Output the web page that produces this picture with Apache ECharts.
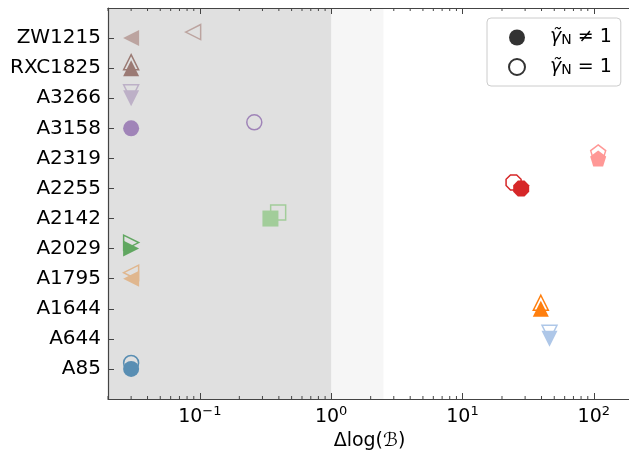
<!DOCTYPE html>
<html><head><meta charset="utf-8">
<script src="https://cdn.jsdelivr.net/npm/echarts@6/dist/echarts.min.js"></script>
<style>html,body{margin:0;padding:0;background:#fff}#c{width:629px;height:451px}</style>
</head><body><div id="c"></div>
<script>
// ---- data ----
const categories = ['A85','A644','A1644','A1795','A2029','A2142','A2255','A2319','A3158','A3266','RXC1825','ZW1215'];
const filledValues = [0.03, 46, 39.5, 0.03, 0.03, 0.345, 28, 108, 0.03, 0.03, 0.03, 0.03];
const openValues   = [0.03, 46, 39.5, 0.03, 0.03, 0.395, 24.5, 108, 0.26, 0.03, 0.03, 0.089];
const markerColors = ['#1f77b4','#aec7e8','#ff7f0e','#ffbb78','#2ca02c','#98df8a','#d62728','#ff9896','#9467bd','#c5b0d5','#8c564b','#c49c94'];
const markerKinds  = ['o','v','^','<','>','s','8','p','o','v','^','<'];
const xMinorTicks = [0.02,0.03,0.04,0.05,0.06,0.07,0.08,0.09,
                     0.2,0.3,0.4,0.5,0.6,0.7,0.8,0.9,
                     2,3,4,5,6,7,8,9,
                     20,30,40,50,60,70,80,90];
const shadeBounds = [[0.02, 1], [1, 2.5]];
const shadeColors = ['rgba(178,178,178,0.4)', 'rgba(178,178,178,0.12)'];
const legendNames = ['neq', 'eq'];
const legendLabels = {neq: '≠ 1', eq: '= 1'};
const xMin = 0.02, xMax = 192, yMin = -1, yMax = 12;
const openOffset = 0.2;

// ---- styles ----
const FONT = 'DejaVu Sans';
const AX = '#444';
const symbolMap = {
  'o': 'circle',
  '^': 'triangle',
  'v': 'path://M0,0 L2,0 L1,2 Z',
  '<': 'path://M0,1 L2,0 L2,2 Z',
  '>': 'path://M0,0 L2,1 L0,2 Z',
  's': 'rect',
  '8': 'path://M1.383,0.076 L1.924,0.617 L1.924,1.383 L1.383,1.924 L0.617,1.924 L0.076,1.383 L0.076,0.617 L0.617,0.076 Z',
  'p': 'path://M1,0 L1.951,0.691 L1.588,1.809 L0.412,1.809 L0.049,0.691 Z'
};

const series = [];
categories.forEach((c, i) => {
  series.push({
    type: 'scatter', name: c + ' open', z: 2,
    symbol: symbolMap[markerKinds[i]], symbolSize: 15,
    itemStyle: {color: 'rgba(0,0,0,0)', borderColor: markerColors[i], borderWidth: 1.5, opacity: 1},
    data: [[openValues[i], i + openOffset]]
  });
});
categories.forEach((c, i) => {
  series.push({
    type: 'scatter', name: c + ' filled', z: 3,
    symbol: symbolMap[markerKinds[i]], symbolSize: 16,
    itemStyle: {color: markerColors[i], opacity: 1},
    data: [[filledValues[i], i]]
  });
});
// shading overlay (drawn over markers like translucent axvspan)
series.push({
  type: 'custom', name: 'shade', z: 8, silent: true, clip: true,
  data: shadeBounds.map((b, k) => [b[0], b[1], k]),
  renderItem: (params, api) => {
    const p0 = api.coord([api.value(0), yMax]);
    const p1 = api.coord([api.value(1), yMin]);
    return {type: 'rect', shape: {x: p0[0], y: p0[1], width: p1[0] - p0[0], height: p1[1] - p0[1]},
            style: {fill: shadeColors[api.value(2)]}};
  }
});
// minor ticks (bottom & top), placed via the log scale
series.push({
  type: 'custom', name: 'minor', z: 12, silent: true, clip: false,
  data: xMinorTicks.map(v => [v, 0]),
  renderItem: (params, api) => {
    const pb = api.coord([api.value(0), yMin]);
    const pt = api.coord([api.value(0), yMax]);
    const st = {stroke: AX, lineWidth: 1};
    return {type: 'group', children: [
      {type: 'line', shape: {x1: pb[0], y1: pb[1], x2: pb[0], y2: pb[1] - 3}, style: st},
      {type: 'line', shape: {x1: pt[0], y1: pt[1], x2: pt[0], y2: pt[1] + 3}, style: st}
    ]};
  }
});
// legend entries
series.push({type: 'scatter', name: 'neq', data: [], symbol: 'circle', itemStyle: {color: '#000'}});
series.push({type: 'scatter', name: 'eq', data: [], symbol: 'circle',
  itemStyle: {color: 'rgba(0,0,0,0)', borderColor: '#000', borderWidth: 1.3}});

const xLabelFmt = v => {
  const l = Math.log10(v), e = Math.round(l);
  if (Math.abs(l - e) > 1e-6) return '';
  return '{b|10}{s|' + (e < 0 ? '\u2212' + (-e) : e) + '}';
};

const xAxisBase = {
  type: 'log', logBase: 10, min: xMin, max: xMax, z: 20,
  axisLine: {show: true, onZero: false, lineStyle: {color: AX, width: 1.2}},
  axisTick: {show: true, inside: true, length: 6, lineStyle: {color: AX, width: 1}},
  splitLine: {show: false}, minorTick: {show: false}
};

const option = {
  animation: false,
  backgroundColor: '#fff',
  grid: {left: 108, right: -2, top: 8, bottom: 52, containLabel: false, outerBoundsMode: 'none'},
  xAxis: [
    Object.assign({}, xAxisBase, {
      position: 'bottom',
      name: 'Δlog(ℬ)', nameLocation: 'middle', nameGap: 30,
      nameTextStyle: {fontSize: 19, fontFamily: FONT, color: '#000'},
      axisLabel: {show: true, margin: 6, formatter: xLabelFmt, showMinLabel: true, showMaxLabel: true,
        rich: {
          b: {fontSize: 19, fontFamily: FONT, color: '#000', verticalAlign: 'bottom', lineHeight: 22},
          s: {fontSize: 13, fontFamily: FONT, color: '#000', verticalAlign: 'top', lineHeight: 13}
        }}
    }),
    Object.assign({}, xAxisBase, {position: 'top', axisLabel: {show: false}})
  ],
  yAxis: {
    type: 'value', min: yMin, max: yMax, interval: 1, z: 20,
    axisLine: {show: true, onZero: false, lineStyle: {color: AX, width: 1.2}},
    axisTick: {show: true, inside: true, length: 6, lineStyle: {color: AX, width: 1}},
    splitLine: {show: false},
    axisLabel: {margin: 7, fontSize: 20, fontFamily: FONT, color: '#000',
      formatter: v => (Number.isInteger(v) && categories[v] !== undefined) ? categories[v] : ''}
  },
  legend: {
    data: legendNames, orient: 'vertical', left: 487, top: 18,
    padding: [10, 9, 9, 21], itemGap: 10, itemWidth: 16, itemHeight: 16,
    backgroundColor: '#fff', borderColor: '#cccccc', borderWidth: 1, borderRadius: 4,
    icon: 'circle',
    formatter: n => '{g|γ̃}{n|N}{t| ' + legendLabels[n] + '}',
    textStyle: {fontSize: 19, fontFamily: FONT, color: '#000',
      rich: {
        g: {fontSize: 19, fontFamily: FONT, fontStyle: 'italic', padding: [0, 0, 0, 20], lineHeight: 20},
        n: {fontSize: 14, fontFamily: FONT, verticalAlign: 'bottom', lineHeight: 20},
        t: {fontSize: 19, fontFamily: FONT, lineHeight: 20}
      }}
  },
  series: series
};

const chart = echarts.init(document.getElementById('c'), null, {renderer: 'canvas'});
chart.setOption(option);
</script>
</body></html>
